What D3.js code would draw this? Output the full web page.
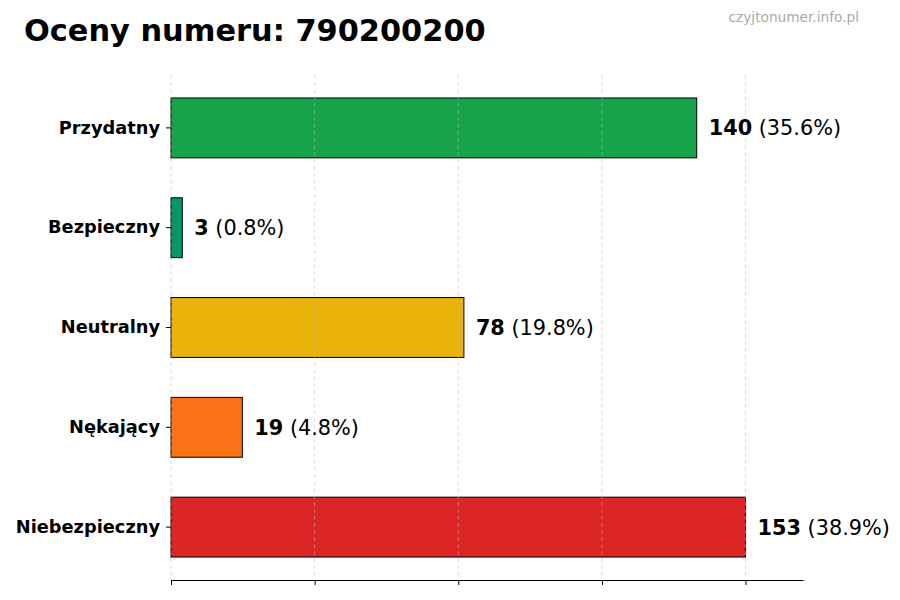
<!DOCTYPE html>
<html>
<head>
<meta charset="utf-8">
<script src="https://cdn.jsdelivr.net/npm/d3@7"></script>
<style>
  body { margin: 0; background: #fff; }
  svg text { font-family: 'DejaVu Sans', sans-serif; }
</style>
</head>
<body>
<div id="chart"></div>
<script>
// data
const categories = ['Przydatny', 'Bezpieczny', 'Neutralny', 'Nękający', 'Niebezpieczny'];
const counts = [140, 3, 78, 19, 153];
const colors = ['#16a34a', '#059669', '#eab308', '#f97316', '#dc2626'];
const xDomain = [0, 168.3];
const xTicks = [0, 38.25, 76.5, 114.75, 153];

const width = 900, height = 600;
const margin = { top: 75, right: 97, bottom: 20, left: 171 };
const total = d3.sum(counts);

const svg = d3.select('#chart').append('svg')
  .attr('width', width)
  .attr('height', height);

let x = d3.scaleLinear()
  .domain(xDomain)
  .range([margin.left, width - margin.right]);

let y = d3.scaleBand()
  .domain(categories)
  .range([margin.top, height - margin.bottom])
  .paddingInner(0.4)
  .paddingOuter(0.23);

let data = categories.map((c, i) => ({ name: c, n: counts[i], color: colors[i] }));

// bars
svg.append('g')
  .selectAll('rect')
  .data(data)
  .enter()
    .append('rect')
    .attr('x', x(0))
    .attr('y', d => y(d.name))
    .attr('width', d => x(d.n) - x(0))
    .attr('height', y.bandwidth())
    .attr('fill', d => d.color)
    .attr('stroke', '#000')
    .attr('stroke-width', 1);

// grid on top of the bars
svg.append('g')
  .selectAll('line')
  .data(xTicks)
  .enter()
    .append('line')
    .attr('x1', d => x(d))
    .attr('x2', d => x(d))
    .attr('y1', margin.top)
    .attr('y2', height - margin.bottom)
    .attr('stroke', '#bbb')
    .attr('stroke-opacity', 0.5)
    .attr('stroke-dasharray', '4,3');

// bottom axis, no labels
let xAxis = g => g
  .attr('transform', `translate(0,${height - margin.bottom})`)
  .call(d3.axisBottom(x).tickValues(xTicks).tickFormat('').tickSize(5).tickSizeOuter(0))
  .call(g => g.select('.domain').attr('stroke', '#000').attr('stroke-width', 1.1))
  .call(g => g.selectAll('.tick line').attr('stroke', '#000'));
svg.append('g').call(xAxis);

// left axis: tick marks + bold labels, no spine
let yAxis = g => g
  .attr('transform', `translate(${margin.left},0)`)
  .call(d3.axisLeft(y).tickSize(5).tickPadding(6))
  .call(g => g.select('.domain').remove())
  .call(g => g.selectAll('.tick line').attr('stroke', '#000'))
  .call(g => g.selectAll('.tick text')
    .attr('font-family', "'DejaVu Sans', sans-serif")
    .attr('font-size', 17.8)
    .attr('font-weight', 'bold')
    .attr('fill', '#000'));
svg.append('g').call(yAxis);

// value labels
let labels = svg.append('g')
  .selectAll('text')
  .data(data)
  .enter()
    .append('text')
    .attr('x', d => x(d.n) + 12)
    .attr('y', d => y(d.name) + y.bandwidth() / 2)
    .attr('dy', '0.36em')
    .attr('font-size', 20.8)
    .attr('fill', '#000');
labels.append('tspan')
  .attr('font-weight', 'bold')
  .text(d => d.n);
labels.append('tspan')
  .text(d => ` (${(d.n / total * 100).toFixed(1)}%)`);

// title + watermark
svg.append('text')
  .attr('x', 24)
  .attr('y', 41)
  .attr('font-size', 30.4)
  .attr('font-weight', 'bold')
  .attr('fill', '#000')
  .text('Oceny numeru: 790200200');

svg.append('text')
  .attr('x', 859)
  .attr('y', 22)
  .attr('text-anchor', 'end')
  .attr('font-size', 13.7)
  .attr('fill', '#aaa')
  .text('czyjtonumer.info.pl');
</script>
</body>
</html>
